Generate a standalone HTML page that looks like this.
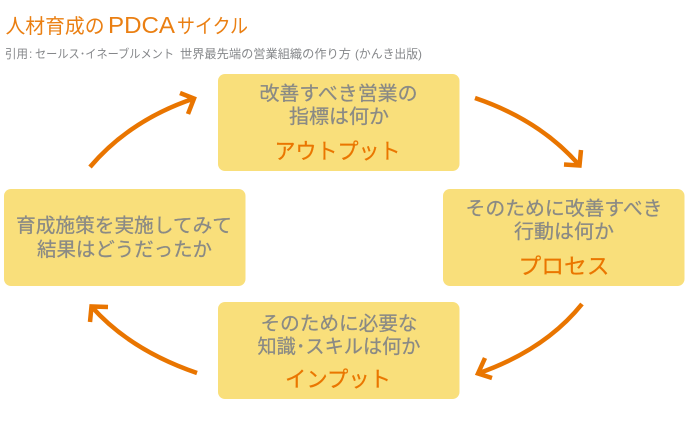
<!DOCTYPE html>
<html lang="ja"><head><meta charset="utf-8">
<style>
html,body{margin:0;padding:0;background:#fff;width:687px;height:423px;overflow:hidden}
svg{display:block}
text{font-family:"Liberation Sans","Noto Sans CJK JP",sans-serif}
.g{fill:#8a8a85;font-size:19.5px;font-weight:400;text-anchor:middle;stroke:#8a8a85;stroke-width:.25}
.o{fill:#ea7600;font-size:22px;font-weight:400;text-anchor:middle;stroke:#ea7600;stroke-width:.25}
.t{fill:#ea7f12;font-size:20px}
.s{fill:#85878a;font-size:12px}
.a{fill:none;stroke:#e97500;stroke-width:4.500}
</style></head><body>
<svg width="687" height="423" viewBox="0 0 687 423" xmlns="http://www.w3.org/2000/svg">
<text class="t" x="5.500" y="33" textLength="99" lengthAdjust="spacingAndGlyphs">人材育成の</text>
<text class="t" x="108" y="33" style="font-size:23px" textLength="67" lengthAdjust="spacingAndGlyphs">PDCA</text>
<text class="t" x="177" y="33" textLength="71" lengthAdjust="spacingAndGlyphs">サイクル</text>

<text class="s" x="5" y="58" textLength="23" lengthAdjust="spacingAndGlyphs">引用</text>
<text class="s" x="29" y="58">:</text>
<text class="s" x="35" y="58" textLength="139" lengthAdjust="spacingAndGlyphs">セールス･イネーブルメント</text>
<text class="s" x="180" y="58" textLength="171" lengthAdjust="spacingAndGlyphs">世界最先端の営業組織の作り方</text>
<text class="s" x="355" y="58" textLength="67" lengthAdjust="spacingAndGlyphs">(かんき出版)</text>

<g fill="#f9df7b">
<rect x="218" y="74" width="241.500" height="97" rx="7"/>
<rect x="443" y="189" width="241.500" height="97" rx="7"/>
<rect x="4" y="189" width="241.500" height="97" rx="7"/>
<rect x="218" y="302" width="241.500" height="97" rx="7"/>
</g>

<text class="g" x="338.500" y="100" textLength="158" lengthAdjust="spacingAndGlyphs">改善すべき営業の</text>
<text class="g" x="339" y="123" textLength="100" lengthAdjust="spacingAndGlyphs">指標は何か</text>
<text class="o" x="337.500" y="159" textLength="126" lengthAdjust="spacingAndGlyphs">アウトプット</text>

<text class="g" x="564" y="215" textLength="197" lengthAdjust="spacingAndGlyphs">そのために改善すべき</text>
<text class="g" x="564" y="238" textLength="100" lengthAdjust="spacingAndGlyphs">行動は何か</text>
<text class="o" x="564" y="274" textLength="91" lengthAdjust="spacingAndGlyphs">プロセス</text>

<text class="g" x="124" y="232" textLength="216" lengthAdjust="spacingAndGlyphs">育成施策を実施してみて</text>
<text class="g" x="124.500" y="256" textLength="175" lengthAdjust="spacingAndGlyphs">結果はどうだったか</text>

<text class="g" x="339" y="330" textLength="157" lengthAdjust="spacingAndGlyphs">そのために必要な</text>
<text class="g" x="339" y="353" textLength="163" lengthAdjust="spacingAndGlyphs">知識･スキルは何か</text>
<text class="o" x="338" y="387" textLength="106" lengthAdjust="spacingAndGlyphs">インプット</text>

<path class="a" d="M90 167 Q130 120 194 98.500"/>
<path class="a" d="M180 93 L194 98.500 L188 114"/>
<path class="a" d="M475 98 Q540 120 579.500 165.500"/>
<path class="a" d="M564 164.500 L579.500 165.500 L581 150"/>
<path class="a" d="M582 304 Q545 350 478 373.500"/>
<path class="a" d="M485 358 L478 373.500 L492 378"/>
<path class="a" d="M197 373 Q130 350 91.500 306.500"/>
<path class="a" d="M108 307 L91.500 306.500 L90 322"/>
</svg>
</body></html>
